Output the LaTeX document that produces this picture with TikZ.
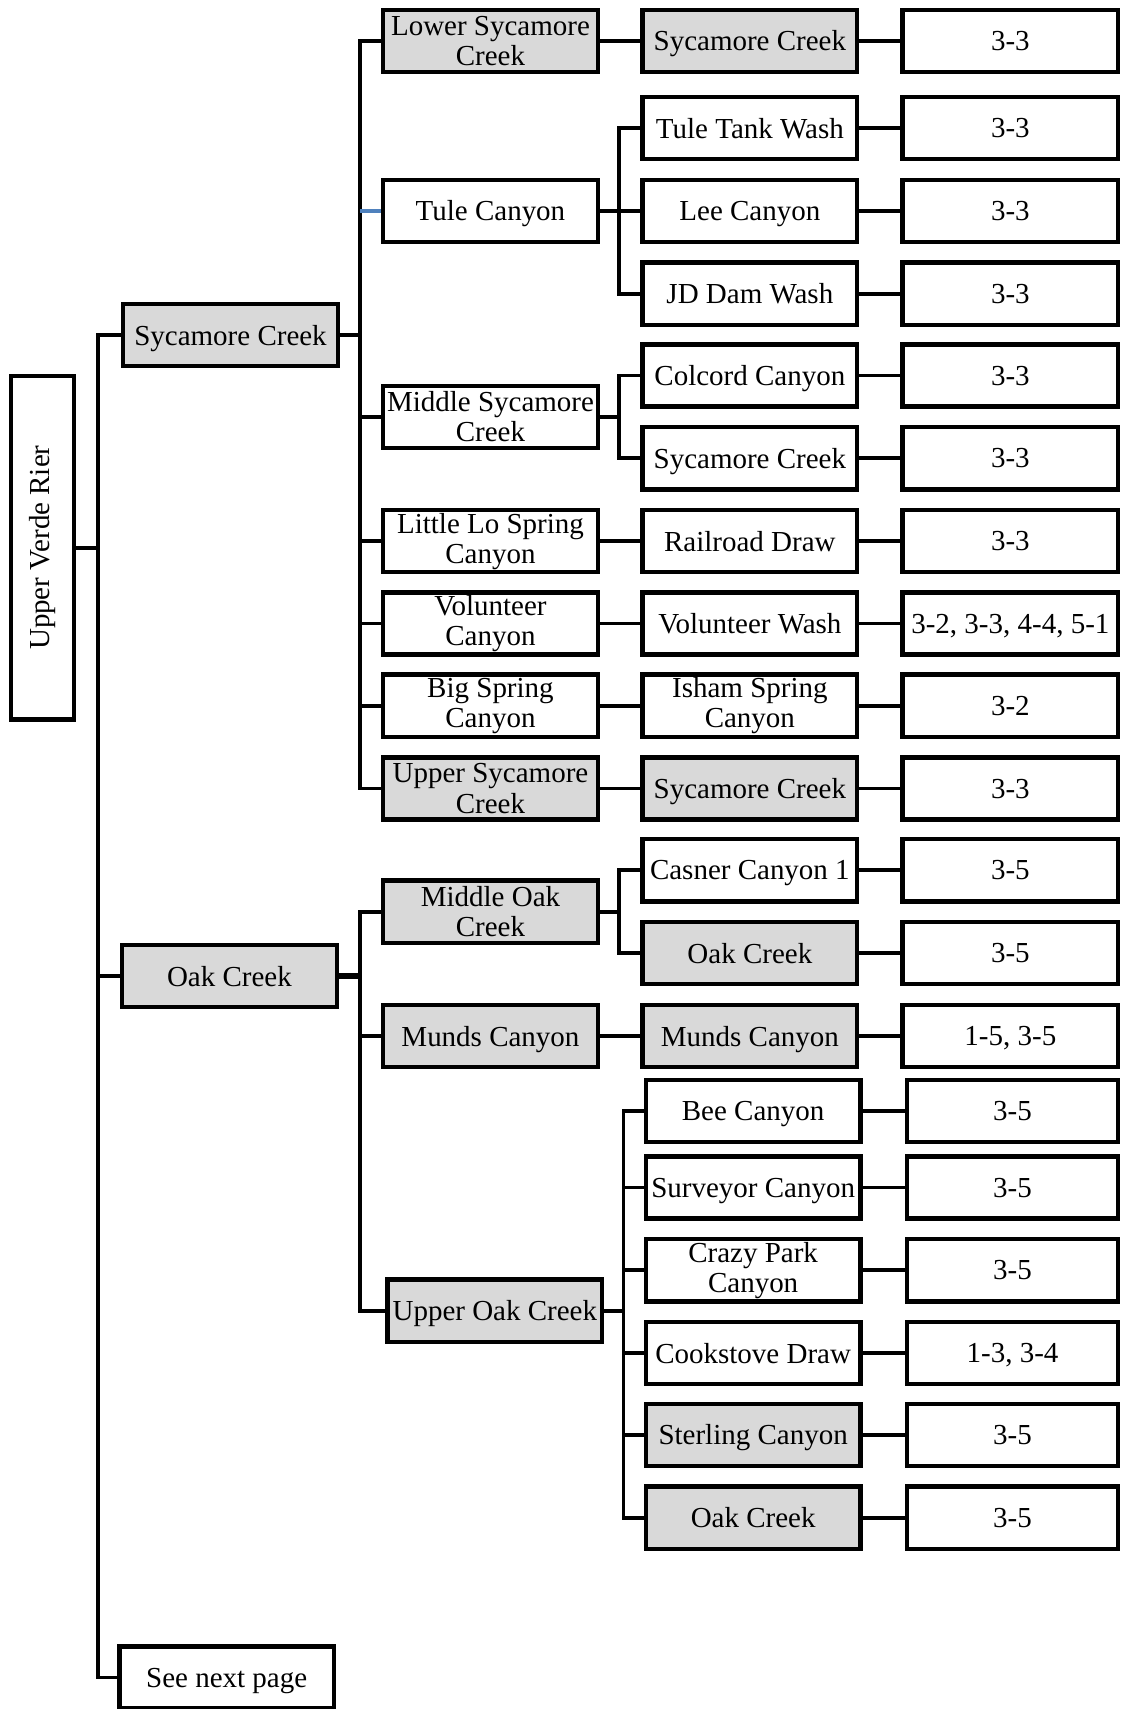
\documentclass[tikz,border=0pt]{standalone}
\usepackage{fontspec}
\setmainfont{Liberation Serif}
\definecolor{boxgray}{HTML}{D9D9D9}
\definecolor{stubblue}{HTML}{4F81BD}
\newcommand{\fsz}{\fontsize{13.3}{13.8}\selectfont}
\begin{document}
\begin{tikzpicture}[x=0.5pt,y=-0.5pt,
  bx/.style={draw, line width=2pt, minimum width=98.5pt, minimum height=28.5pt, inner sep=1pt, align=center, font=\fsz, fill=white, text depth=0pt},
  gr/.style={bx, fill=boxgray},
  two/.style={text depth={}},
  ev/.style={bx, minimum width=99pt},
  evs/.style={bx, minimum width=97pt},
  ln/.style={line width=1.75pt},
  bl/.style={line width=1.5pt, draw=stubblue}]
\useasboundingbox (0,0) rectangle (1028,1568);
% column A
\node[bx, minimum width=29pt, minimum height=157.5pt, two] (A) at (39,502.5) {\rotatebox{90}{Upper Verde Rier}};
% column B
\node[gr] (B1) at (211.5,307.5) {Sycamore Creek};
\node[gr] (B2) at (210.5,895.5) {Oak Creek};
\node[bx] (B3) at (208,1539) {See next page};
% column C
\node[gr, two] (C1) at (450,37.5) {Lower Sycamore\\Creek};
\node[bx] (C2) at (450,193.5) {Tule Canyon};
\node[bx, two] (C3) at (450,382.5) {Middle Sycamore\\Creek};
\node[bx, two] (C4) at (450,496.5) {Little Lo Spring\\Canyon};
\node[bx, two] (C5) at (450,572) {Volunteer\\Canyon};
\node[bx, two] (C6) at (450,647.5) {Big Spring\\Canyon};
\node[gr, two] (C7) at (450,723.5) {Upper Sycamore\\Creek};
\node[gr, two] (C8) at (450,836.5) {Middle Oak\\Creek};
\node[gr] (C9) at (450,950.5) {Munds Canyon};
\node[gr] (C10) at (454,1202.5) {Upper Oak Creek};
% column D
\node[gr] (D1) at (688,37.5) {Sycamore Creek};
\node[bx] (D2) at (688,117.5) {Tule Tank Wash};
\node[bx] (D3) at (688,193.5) {Lee Canyon};
\node[bx] (D4) at (688,269.5) {JD Dam Wash};
\node[bx] (D5) at (688,344.5) {Colcord Canyon};
\node[bx] (D6) at (688,420.5) {Sycamore Creek};
\node[bx] (D7) at (688,496.5) {Railroad Draw};
\node[bx] (D8) at (688,572) {Volunteer Wash};
\node[bx, two] (D9) at (688,647.5) {Isham Spring\\Canyon};
\node[gr] (D10) at (688,723.5) {Sycamore Creek};
\node[bx] (D11) at (688,798.5) {Casner Canyon 1};
\node[gr] (D12) at (688,874.5) {Oak Creek};
\node[gr] (D13) at (688,950.5) {Munds Canyon};
\node[bx] (D14) at (691,1019.5) {Bee Canyon};
\node[bx] (D15) at (691,1089.5) {Surveyor Canyon};
\node[bx, two] (D16) at (691,1165.5) {Crazy Park\\Canyon};
\node[bx] (D17) at (691,1241.5) {Cookstove Draw};
\node[gr] (D18) at (691,1316.5) {Sterling Canyon};
\node[gr] (D19) at (691,1392.5) {Oak Creek};
% column E
\node[ev] (E1) at (927,37.5) {3-3};
\node[ev] (E2) at (927,117.5) {3-3};
\node[ev] (E3) at (927,193.5) {3-3};
\node[ev] (E4) at (927,269.5) {3-3};
\node[ev] (E5) at (927,344.5) {3-3};
\node[ev] (E6) at (927,420.5) {3-3};
\node[ev] (E7) at (927,496.5) {3-3};
\node[ev] (E8) at (927,572) {3-2, 3-3, 4-4, 5-1};
\node[ev] (E9) at (927,647.5) {3-2};
\node[ev] (E10) at (927,723.5) {3-3};
\node[ev] (E11) at (927,798.5) {3-5};
\node[ev] (E12) at (927,874.5) {3-5};
\node[ev] (E13) at (927,950.5) {1-5, 3-5};
\node[evs] (E14) at (929,1019.5) {3-5};
\node[evs] (E15) at (929,1089.5) {3-5};
\node[evs] (E16) at (929,1165.5) {3-5};
\node[evs] (E17) at (929,1241.5) {1-3, 3-4};
\node[evs] (E18) at (929,1316.5) {3-5};
\node[evs] (E19) at (929,1392.5) {3-5};
% junctions
\coordinate (jA) at (90,502.5);
\coordinate (jS) at (330,307.5);
\coordinate (jO) at (330,895.5);
\coordinate (jT) at (568,193.5);
\coordinate (jM) at (568,382.5);
\coordinate (jMO) at (568,836.5);
\coordinate (jU) at (572,1202.5);
% connectors A
\draw[ln] (A.east) -- (jA);
\draw[ln] (B1.west) -| (jA);
\draw[ln] (B3.west) -| (jA);
\draw[ln] (B2.west) -- (B2.west -| jA);
% Sycamore group
\draw[ln] (B1.east) -- (jS);
\draw[ln] (C1.west) -| (jS);
\draw[ln] (C7.west) -| (jS);
\draw[bl] (C2.west) -- (C2.west -| jS);
\foreach \n in {C3,C4,C5,C6} \draw[ln] (\n.west) -- (\n.west -| jS);
% Oak group
\draw[ln, line width=2.5pt] (B2.east) -- (jO);
\draw[ln] (C8.west) -| (jO);
\draw[ln] (C10.west) -| (jO);
\draw[ln] (C9.west) -- (C9.west -| jO);
% Tule
\draw[ln] (C2.east) -- (jT);
\draw[ln] (D2.west) -| (jT);
\draw[ln] (D4.west) -| (jT);
\draw[ln] (D3.west) -- (D3.west -| jT);
% Middle Sycamore
\draw[ln] (C3.east) -- (jM);
\draw[ln] (D5.west) -| (jM);
\draw[ln] (D6.west) -| (jM);
% Middle Oak
\draw[ln] (C8.east) -- (jMO);
\draw[ln] (D11.west) -| (jMO);
\draw[ln] (D12.west) -| (jMO);
% Upper Oak
\draw[ln] (C10.east) -- (jU);
\draw[ln] (D14.west) -| (jU);
\draw[ln] (D19.west) -| (jU);
\foreach \n in {D15,D16,D17,D18} \draw[ln] (\n.west) -- (\n.west -| jU);
% direct C-D
\draw[ln] (C1.east) -- (D1.west);
\draw[ln] (C4.east) -- (D7.west);
\draw[ln] (C5.east) -- (D8.west);
\draw[ln] (C6.east) -- (D9.west);
\draw[ln] (C7.east) -- (D10.west);
\draw[ln] (C9.east) -- (D13.west);
% D-E
\foreach \i in {1,...,19} \draw[ln] (D\i.east) -- (E\i.west);
\end{tikzpicture}
\end{document}
